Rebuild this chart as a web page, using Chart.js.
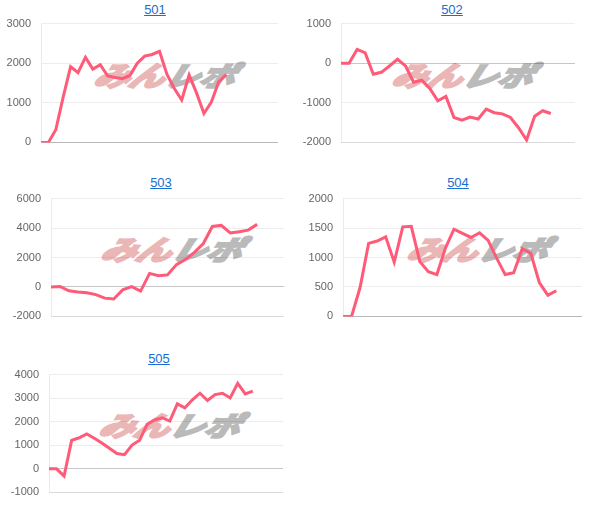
<!DOCTYPE html>
<html lang="ja">
<head>
  <meta charset="UTF-8" />
  <title>501 - 505</title>
  <script src="https://cdn.jsdelivr.net/npm/chart.js"></script>
  <style>
    body { margin: 0; background: #fff; width: 608px; height: 525px; position: relative; overflow: hidden; }
    .ttl { position: absolute; width: 60px; margin-left: -30px; text-align: center;
           font: 13px Arial, "Liberation Sans", sans-serif; line-height: 16px; }
    .ttl a { color: #1a6ecf; text-decoration: underline; }
    .wm { position: absolute; z-index: 0; white-space: nowrap;
          font: italic bold 27px "Noto Sans CJK JP", sans-serif; line-height: 26px;
          letter-spacing: 0px; transform-origin: 0 0; transform: scaleX(1.3) skewX(-14deg); }
    .wm .p { color: #ebb6b6; -webkit-text-stroke: 2.5px #ebb6b6; }
    .wm .g { color: #bababa; -webkit-text-stroke: 2.5px #bababa; }
    canvas { position: absolute; z-index: 1; }
  </style>
</head>
<body>

<script>
  // day labels (not shown on the chart)
  const days = ['1','2','3','4','5','6','7','8','9','10','11','12','13','14','15','16','17',
                '18','19','20','21','22','23','24','25','26','27','28','29','30','31','32','33'];

  const s501 = [0, 0, 320, 1150, 1910, 1760, 2150, 1850, 1960, 1680, 1640, 1610, 1690,
                2000, 2180, 2220, 2300, 1720, 1360, 1070, 1700, 1250, 730, 1020, 1530, 1710];
  const s502 = [0, 0, 350, 260, -280, -230, -70, 100, -70, -480, -430, -640, -950, -840,
                -1370, -1440, -1360, -1410, -1160, -1250, -1280, -1370, -1630, -1940, -1340, -1200, -1270];
  const s503 = [0, 30, -260, -350, -400, -520, -760, -820, -200, 20, -280, 920, 760, 820,
                1520, 1860, 2350, 2950, 4110, 4180, 3670, 3750, 3860, 4250];
  const s504 = [0, 0, 490, 1240, 1280, 1350, 920, 1520, 1530, 930, 760, 710, 1160, 1480,
                1410, 1340, 1420, 1290, 990, 710, 740, 1150, 1070, 575, 360, 435];
  const s505 = [0, 0, -310, 1210, 1320, 1480, 1300, 1100, 870, 650, 600, 1010, 1210, 1890,
                2080, 2170, 2030, 2760, 2590, 2930, 3210, 2900, 3150, 3210, 3010, 3630, 3180, 3300];

  // name, data, number of day slots, y range
  const charts = [
    { name: '501', data: s501, n: 33, min: 0,     max: 3000, step: 1000,
      box: { L: 41, R: 278, T: 24, B: 143 },  title: [155, 2],  wm: [100, 62] },
    { name: '502', data: s502, n: 30, min: -2000, max: 1000, step: 1000,
      box: { L: 341, R: 575, T: 24, B: 143 }, title: [452, 2],  wm: [398, 62] },
    { name: '503', data: s503, n: 27, min: -2000, max: 6000, step: 2000,
      box: { L: 51, R: 284, T: 199, B: 317 }, title: [161, 175], wm: [107, 236] },
    { name: '504', data: s504, n: 29, min: 0,     max: 2000, step: 500,
      box: { L: 343, R: 582, T: 199, B: 317 }, title: [458, 175], wm: [413, 236] },
    { name: '505', data: s505, n: 32, min: -1000, max: 4000, step: 1000,
      box: { L: 49, R: 283, T: 375, B: 493 }, title: [159, 351], wm: [105, 412] }
  ];

  const AXIS_W = 40;

  const makeConfig = c => ({
    type: 'line',
    data: {
      labels: days.slice(0, c.n),
      datasets: [{
        data: c.data,
        borderColor: 'rgb(255, 90, 120)',
        borderWidth: 3,
        pointRadius: 0,
        fill: false,
        tension: 0
      }]
    },
    options: {
      responsive: false,
      maintainAspectRatio: false,
      animation: false,
      layout: { padding: 0 },
      plugins: { legend: { display: false }, tooltip: { enabled: false } },
      scales: {
        x: {
          ticks: { display: false },
          grid: { display: false },
          border: { display: true, color: 'rgba(0,0,0,0.08)' },
          afterFit: s => { s.height = 0; }
        },
        y: {
          min: c.min, max: c.max,
          ticks: { stepSize: c.step, color: '#666', padding: 10, callback: v => String(v),
                   font: { family: 'Arial, "Liberation Sans", sans-serif', size: 11 } },
          grid: {
            drawTicks: false,
            color: ctx => ctx.tick && ctx.tick.value === 0 ? 'rgba(0,0,0,0.22)' : 'rgba(0,0,0,0.07)'
          },
          border: { display: true, color: 'rgba(0,0,0,0.08)' },
          afterFit: s => { s.width = AXIS_W; }
        }
      }
    }
  });

  charts.forEach(c => {
    const t = document.createElement('div');
    t.className = 'ttl';
    t.style.left = c.title[0] + 'px';
    t.style.top = c.title[1] + 'px';
    t.innerHTML = '<a href="#">' + c.name + '</a>';
    document.body.appendChild(t);

    const w = document.createElement('div');
    w.className = 'wm';
    w.style.left = c.wm[0] + 'px';
    w.style.top = c.wm[1] + 'px';
    w.innerHTML = '<span class="p">みん</span><span class="g">レポ</span>';
    document.body.appendChild(w);

    const b = c.box;
    const cv = document.createElement('canvas');
    document.body.appendChild(cv);

    // first pass: find how much room the axes take, then size the canvas so the plot lands on the box
    cv.width = 300; cv.height = 200;
    let chart = new Chart(cv.getContext('2d'), makeConfig(c));
    const a = chart.chartArea;
    const padL = a.left, padT = a.top, padR = 300 - a.right, padB = 200 - a.bottom;
    chart.destroy();

    cv.width = b.R - b.L + padL + padR;
    cv.height = b.B - b.T + padT + padB;
    cv.style.width = cv.width + 'px';
    cv.style.height = cv.height + 'px';
    cv.style.left = (b.L - padL) + 'px';
    cv.style.top = (b.T - padT) + 'px';
    chart = new Chart(cv.getContext('2d'), makeConfig(c));
  });
</script>
</body>
</html>
